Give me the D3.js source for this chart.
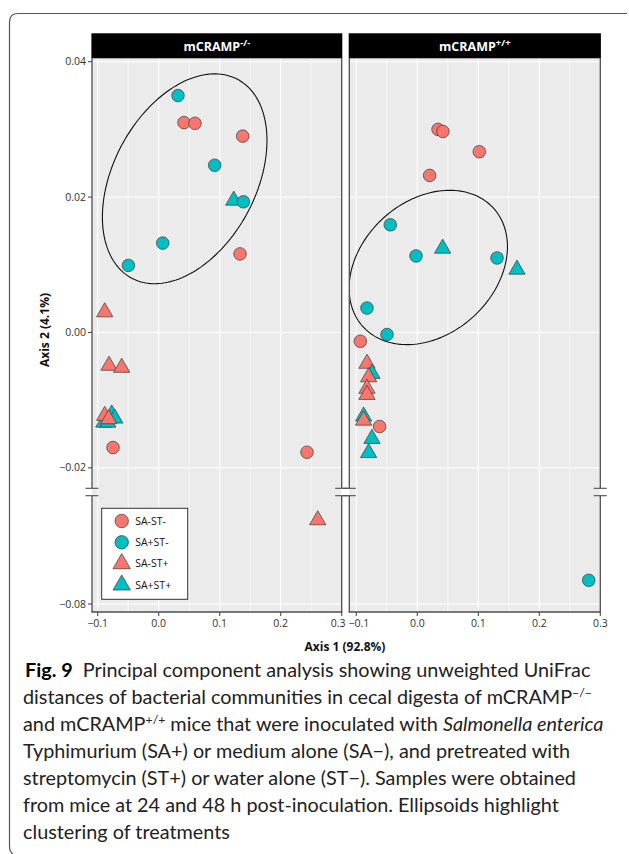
<!DOCTYPE html>
<html>
<head>
<meta charset="utf-8">
<script src="https://cdn.jsdelivr.net/npm/d3@7"></script>
<style>
  html, body { margin: 0; padding: 0; background: #fff; }
  svg { display: block; }
</style>
</head>
<body>
<div id="fig"></div>
<script>
// groups and styles
const groups = ["SA-ST-", "SA+ST-", "SA-ST+", "SA+ST+"];
const groupColors = ["#F8766D", "#00BFC4", "#F8766D", "#00BFC4"];
const groupShapes = ["circle", "circle", "triangle", "triangle"];

const panelTitles = [["mCRAMP", "-/-"], ["mCRAMP", "+/+"]];

// points: [group, axis1, axis2]
const koPoints = [
  ["SA+ST-", 0.0316, 0.0350],
  ["SA-ST-", 0.0415, 0.0310],
  ["SA-ST-", 0.0595, 0.0309],
  ["SA-ST-", 0.1377, 0.0290],
  ["SA+ST-", 0.0918, 0.0247],
  ["SA+ST+", 0.1230, 0.0195],
  ["SA+ST-", 0.1389, 0.0193],
  ["SA+ST-", 0.0066, 0.0132],
  ["SA+ST-", -0.0497, 0.0099],
  ["SA-ST-", 0.1333, 0.0116],
  ["SA-ST+", -0.0885, 0.0030],
  ["SA-ST+", -0.0815, -0.0049],
  ["SA-ST+", -0.0607, -0.0052],
  ["SA+ST+", -0.0770, -0.0121],
  ["SA+ST+", -0.0720, -0.0127],
  ["SA+ST+", -0.0900, -0.0133],
  ["SA+ST+", -0.0836, -0.0133],
  ["SA-ST+", -0.0885, -0.0123],
  ["SA-ST+", -0.0820, -0.0128],
  ["SA-ST-", -0.0749, -0.0170],
  ["SA-ST-", 0.2431, -0.0177],
  ["SA-ST+", 0.2607, -0.0676]
];

const wtPoints = [
  ["SA-ST-", 0.0340, 0.0300],
  ["SA-ST-", 0.0420, 0.0297],
  ["SA-ST-", 0.1016, 0.0267],
  ["SA-ST-", 0.0202, 0.0232],
  ["SA+ST-", -0.0443, 0.0159],
  ["SA+ST-", -0.0021, 0.0113],
  ["SA+ST+", 0.0415, 0.0124],
  ["SA+ST-", 0.1307, 0.0110],
  ["SA+ST+", 0.1634, 0.0093],
  ["SA+ST-", -0.0825, 0.0036],
  ["SA+ST-", -0.0497, -0.0003],
  ["SA-ST-", -0.0934, -0.0013],
  ["SA-ST+", -0.0825, -0.0046],
  ["SA+ST+", -0.0743, -0.0061],
  ["SA-ST+", -0.0798, -0.0066],
  ["SA-ST+", -0.0825, -0.0083],
  ["SA-ST+", -0.0825, -0.0092],
  ["SA+ST+", -0.0880, -0.0124],
  ["SA-ST+", -0.0880, -0.0130],
  ["SA-ST-", -0.0618, -0.0139],
  ["SA+ST+", -0.0743, -0.0157],
  ["SA+ST+", -0.0798, -0.0178],
  ["SA+ST-", 0.2810, -0.0765]
];

// ellipses: centre, spread along each axis, correlation
const koEllipse = { cx: 0.0426, cy: 0.0227, sx: 0.1349, sy: 0.0155, rho: 0.365 };
const wtEllipse = { cx: 0.0180, cy: 0.0096, sx: 0.1298, sy: 0.0114, rho: 0.27 };

const xTicks = [-0.1, 0.0, 0.1, 0.2, 0.3];
const xMinor = [-0.05, 0.05, 0.15, 0.25];
const yTicksUpper = [0.04, 0.02, 0.00, -0.02];
const yTicksLower = [-0.08];

const captionLines = [
  [{ t: "Fig. 9", w: "bold" }, { t: "  Principal component analysis showing unweighted UniFrac" }],
  [{ t: "distances of bacterial communities in cecal digesta of mCRAMP" }, { t: "\u2212/\u2212", sup: true }],
  [{ t: "and mCRAMP" }, { t: "+/+", sup: true }, { t: " mice that were inoculated with " }, { t: "Salmonella enterica", i: true }],
  [{ t: "Typhimurium (SA+) or medium alone (SA\u2212), and pretreated with" }],
  [{ t: "streptomycin (ST+) or water alone (ST\u2212). Samples were obtained" }],
  [{ t: "from mice at 24 and 48 h post-inoculation. Ellipsoids highlight" }],
  [{ t: "clustering of treatments" }]
];

const W = 629, H = 854;
const svg = d3.select("#fig").append("svg")
  .attr("width", W).attr("height", H);

// figure frame (rounded top-left corner)
svg.append("path")
  .attr("d", "M627,13.5 H18 Q9.5,13.5 9.5,22 V846 Q9.5,852 13,854")
  .attr("fill", "none")
  .attr("stroke", "#555")
  .attr("stroke-width", 1.2);

const panelTop = 58.3, panelBottom = 612;
const stripTop = 33.3;
const panels = [
  { left: 92, right: 341.7, data: koPoints, ell: koEllipse, title: panelTitles[0] },
  { left: 349.3, right: 600.3, data: wtPoints, ell: wtEllipse, title: panelTitles[1] }
];

// broken y scale: upper and lower part share the same slope
const yUpper = d3.scaleLinear().domain([-0.02, 0.04]).range([467.8, 61.7]);
const yLower = d3.scaleLinear().domain([-0.08, -0.06]).range([604, 468.6]);
const y = v => (v > -0.04 ? yUpper(v) : yLower(v));
const breakTop = 488.3, breakBottom = 495.7;

const symbolFor = (g, size) => {
  const i = groups.indexOf(g);
  const type = groupShapes[i] === "circle" ? d3.symbolCircle : d3.symbolTriangle;
  return d3.symbol().type(type).size(groupShapes[i] === "circle" ? size * 1.08 : size)();
};
const colorFor = g => groupColors[groups.indexOf(g)];

const tickFont = "'Open Sans', sans-serif";

panels.forEach((p, pi) => {
  const x = d3.scaleLinear().domain([-0.1, 0.3]).range([p.right - 244, p.right]);
  const g = svg.append("g");
  const clipId = "clip" + pi;

  svg.append("defs").append("clipPath").attr("id", clipId)
    .append("rect")
    .attr("x", p.left).attr("y", panelTop)
    .attr("width", p.right - p.left).attr("height", panelBottom - panelTop);

  // background
  g.append("rect")
    .attr("x", p.left).attr("y", panelTop)
    .attr("width", p.right - p.left).attr("height", panelBottom - panelTop)
    .attr("fill", "#EBEBEB");

  // grid
  g.selectAll(".vminor").data(xMinor).enter().append("line")
    .attr("x1", d => x(d)).attr("x2", d => x(d))
    .attr("y1", panelTop).attr("y2", panelBottom)
    .attr("stroke", "#fff").attr("stroke-width", 0.6);
  g.selectAll(".vmajor").data(xTicks).enter().append("line")
    .attr("x1", d => x(d)).attr("x2", d => x(d))
    .attr("y1", panelTop).attr("y2", panelBottom)
    .attr("stroke", "#fff").attr("stroke-width", 1.1);
  g.selectAll(".hmajor").data(yTicksUpper.concat(yTicksLower)).enter().append("line")
    .attr("x1", p.left).attr("x2", p.right)
    .attr("y1", d => y(d)).attr("y2", d => y(d))
    .attr("stroke", "#fff").attr("stroke-width", 1.1);

  // points
  const pg = g.append("g").attr("clip-path", `url(#${clipId})`);
  pg.selectAll("path.pt").data(p.data).enter().append("path")
    .attr("class", "pt")
    .attr("transform", d => `translate(${x(d[1])},${y(d[2])})`)
    .attr("d", d => symbolFor(d[0], 115))
    .attr("fill", d => colorFor(d[0]))
    .attr("stroke", "#3a3a3a")
    .attr("stroke-width", 0.7);

  // ellipse
  const e = p.ell;
  const ts = d3.range(0, 2 * Math.PI + 0.001, Math.PI / 90);
  const ellPts = ts.map(t => [
    x(e.cx + e.sx * Math.cos(t)),
    y(e.cy + e.sy * (e.rho * Math.cos(t) + Math.sqrt(1 - e.rho * e.rho) * Math.sin(t)))
  ]);
  pg.append("path")
    .attr("d", d3.line()(ellPts) + "Z")
    .attr("fill", "none")
    .attr("stroke", "#111")
    .attr("stroke-width", 1.1);

  // panel border with axis break on both sides
  const bc = "#4d4d4d";
  [p.left, p.right].forEach(bx => {
    g.append("line").attr("x1", bx).attr("x2", bx)
      .attr("y1", panelTop).attr("y2", breakTop)
      .attr("stroke", bc).attr("stroke-width", 1.3);
    g.append("line").attr("x1", bx).attr("x2", bx)
      .attr("y1", breakBottom).attr("y2", panelBottom)
      .attr("stroke", bc).attr("stroke-width", 1.3);
    [breakTop, breakBottom].forEach(by => {
      g.append("line").attr("x1", bx - 6.5).attr("x2", bx + 6.5)
        .attr("y1", by).attr("y2", by)
        .attr("stroke", bc).attr("stroke-width", 1.1);
    });
  });
  g.append("line").attr("x1", p.left - 0.6).attr("x2", p.right + 0.6)
    .attr("y1", panelBottom).attr("y2", panelBottom)
    .attr("stroke", bc).attr("stroke-width", 1.3);

  // x ticks
  const xt = g.selectAll(".xt").data(xTicks).enter().append("g")
    .attr("transform", d => `translate(${x(d)},${panelBottom})`);
  xt.append("line").attr("y1", 0).attr("y2", 4)
    .attr("stroke", bc).attr("stroke-width", 1.1);
  xt.append("text")
    .attr("x", (d, i) => (pi === 0 && i === xTicks.length - 1 ? -3.5 : pi === 1 && i === 0 ? 2.5 : 0))
    .attr("y", 15)
    .attr("text-anchor", "middle")
    .attr("font-family", tickFont)
    .attr("font-size", 10.5)
    .attr("fill", "#333")
    .text(d => d3.format(".1f")(d));

  // strip
  g.append("rect")
    .attr("x", p.left - 0.6).attr("y", stripTop)
    .attr("width", p.right - p.left + 1.2).attr("height", panelTop - stripTop)
    .attr("fill", "#000");
  const st = g.append("text")
    .attr("x", (p.left + p.right) / 2)
    .attr("y", 51)
    .attr("text-anchor", "middle")
    .attr("font-family", tickFont)
    .attr("font-weight", "bold")
    .attr("font-size", 12.5)
    .attr("fill", "#fff");
  st.append("tspan").text(p.title[0]);
  st.append("tspan").attr("dy", -5).attr("font-size", 9.5).text(p.title[1]);

  if (pi === 0) {
    const yt = g.selectAll(".yt").data(yTicksUpper.concat(yTicksLower)).enter().append("g")
      .attr("transform", d => `translate(${p.left},${y(d)})`);
    yt.append("line").attr("x1", -4).attr("x2", 0)
      .attr("stroke", bc).attr("stroke-width", 1.1);
    yt.append("text")
      .attr("x", -6).attr("dy", "0.35em")
      .attr("text-anchor", "end")
      .attr("font-family", tickFont)
      .attr("font-size", 10.5)
      .attr("fill", "#333")
      .text(d => d3.format(".2f")(d));

    // legend
    const lg = g.append("g");
    lg.append("rect")
      .attr("x", 101.7).attr("y", 508.3)
      .attr("width", 86).attr("height", 91)
      .attr("fill", "#fff")
      .attr("stroke", "#333").attr("stroke-width", 1);
    const ly = d3.scalePoint().domain(groups).range([521, 585]);
    const li = lg.selectAll(".li").data(groups).enter().append("g")
      .attr("transform", d => `translate(121.7,${ly(d)})`);
    li.append("path")
      .attr("d", d => symbolFor(d, 132))
      .attr("fill", d => colorFor(d))
      .attr("stroke", "#3a3a3a").attr("stroke-width", 0.7);
    li.append("text")
      .attr("x", 13.5).attr("dy", "0.35em")
      .attr("font-family", tickFont)
      .attr("font-size", 10.5)
      .attr("fill", "#111")
      .text(d => d);
  }
});

// axis titles
svg.append("text")
  .attr("x", 345).attr("y", 650.5)
  .attr("text-anchor", "middle")
  .attr("font-family", tickFont)
  .attr("font-weight", "bold")
  .attr("font-size", 12)
  .attr("fill", "#111")
  .text("Axis 1 (92.8%)");
svg.append("text")
  .attr("transform", "translate(49,330) rotate(-90)")
  .attr("text-anchor", "middle")
  .attr("font-family", tickFont)
  .attr("font-weight", "bold")
  .attr("font-size", 12)
  .attr("fill", "#111")
  .text("Axis 2 (4.1%)");

// caption
const cap = svg.append("g")
  .attr("font-family", "Lato, 'Noto Sans', sans-serif")
  .attr("fill", "#222");
const baselines = [677, 704, 731, 758, 785, 812, 839];
let capSize = 18;
const probe = cap.append("text").attr("font-size", capSize).text("clustering of treatments");
capSize = capSize * 207 / probe.node().getComputedTextLength();
probe.remove();
captionLines.forEach((parts, li) => {
  const t = cap.append("text")
    .attr("x", li === 0 ? 25 : 23)
    .attr("y", baselines[li])
    .attr("font-size", capSize)
    .attr("xml:space", "preserve")
    .style("white-space", "pre");
  parts.forEach(pt => {
    const s = t.append("tspan").text(pt.t);
    if (pt.w) s.attr("font-weight", pt.w).attr("fill", "#000");
    if (pt.i) s.attr("font-style", "italic");
    if (pt.sup) s.attr("font-size", capSize * 0.62).attr("baseline-shift", "super");
  });
});
</script>
</body>
</html>
